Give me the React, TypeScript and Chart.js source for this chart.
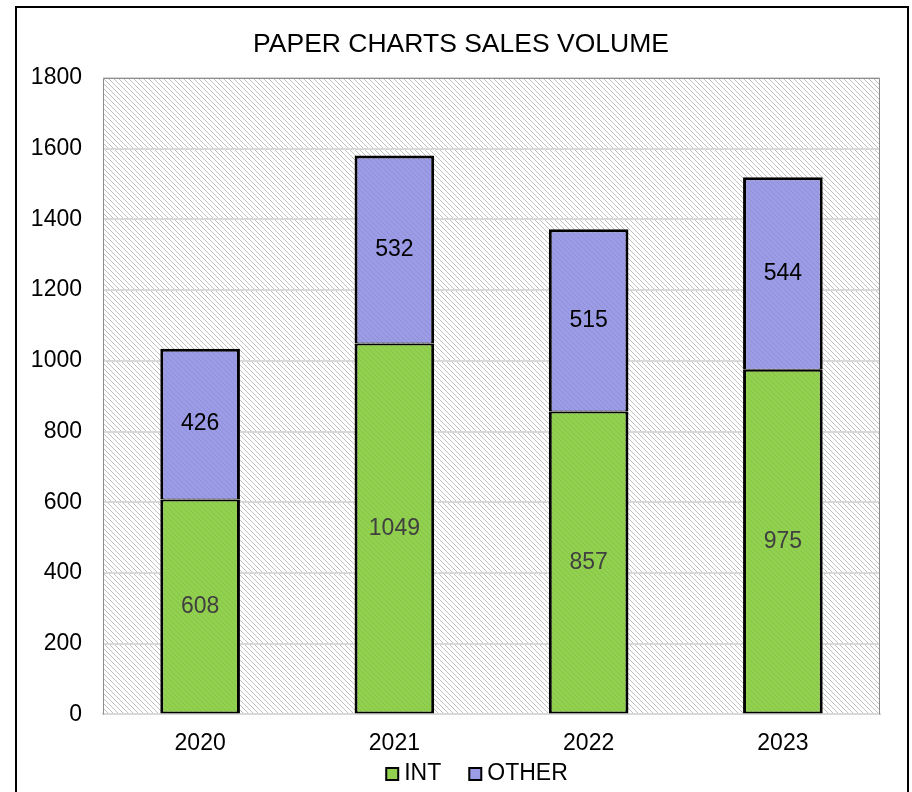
import React, { useEffect, useRef } from "react";
import { Chart, registerables } from "chart.js";

Chart.register(...registerables);

const categories = ["2020", "2021", "2022", "2023"];
const intValues = [608, 1049, 857, 975];
const otherValues = [426, 532, 515, 544];
const yTicks = [0, 200, 400, 600, 800, 1000, 1200, 1400, 1600, 1800];
const seriesNames = ["INT", "OTHER"];
const seriesColors = ["#92d050", "#9c9ce6"];
const titleText = "PAPER CHARTS SALES VOLUME";

const FONT = "'Liberation Sans', Arial, sans-serif";

function hatchPattern(base: string, line: string, period: number) {
  const c = document.createElement("canvas");
  c.width = period;
  c.height = period;
  const g = c.getContext("2d")!;
  g.fillStyle = base;
  g.fillRect(0, 0, period, period);
  g.fillStyle = line;
  for (let i = 0; i < period; i++) g.fillRect(i, i, 1, 1);
  return g.createPattern(c, "repeat")!;
}

export default function App() {
  const ref = useRef<HTMLCanvasElement>(null);

  useEffect(() => {
    const canvas = ref.current!;
    const ctx = canvas.getContext("2d")!;
    const bgPattern = hatchPattern("#ffffff", "#c0c0c0", 5);
    const greenPattern = hatchPattern("#92d050", "#86c446", 5);
    const purplePattern = hatchPattern("#9c9ce6", "#8f8fda", 5);

    const frame = {
      id: "frame",
      beforeDraw(chart: any) {
        const c = chart.ctx;
        const a = chart.chartArea;
        c.save();
        c.fillStyle = "#ffffff";
        c.fillRect(0, 0, chart.width, chart.height);
        c.fillStyle = bgPattern;
        c.fillRect(a.left, a.top, a.right - a.left, a.bottom - a.top);
        c.restore();
      },
      beforeDatasetsDraw(chart: any) {
        const c = chart.ctx;
        const a = chart.chartArea;
        c.save();
        c.strokeStyle = "#8c8c8c";
        c.lineWidth = 1;
        c.beginPath();
        c.moveTo(a.left + 0.5, a.bottom);
        c.lineTo(a.left + 0.5, a.top + 0.5);
        c.lineTo(a.right - 0.5, a.top + 0.5);
        c.lineTo(a.right - 0.5, a.bottom);
        c.stroke();
        c.restore();
      },
      afterDraw(chart: any) {
        const c = chart.ctx;
        c.save();
        // outer frame
        c.strokeStyle = "#000000";
        c.lineWidth = 2;
        c.strokeRect(16, 7, 892, 820);
        // title
        c.fillStyle = "#000000";
        c.font = `26.5px ${FONT}`;
        c.textAlign = "center";
        c.textBaseline = "middle";
        c.fillText(titleText, 461, 45);
        // legend
        c.font = `23px ${FONT}`;
        c.textAlign = "left";
        const box = 12;
        const gapText = 6;
        const gapItem = 28;
        const widths = seriesNames.map((n) => c.measureText(n).width);
        let total = 0;
        widths.forEach((w, i) => {
          total += box + gapText + w + (i < widths.length - 1 ? gapItem : 0);
        });
        let x = 477 - total / 2;
        const cy = 774;
        seriesNames.forEach((n, i) => {
          c.fillStyle = seriesColors[i];
          c.fillRect(x, cy - box / 2, box, box);
          c.strokeStyle = "#000000";
          c.lineWidth = 2;
          c.strokeRect(x, cy - box / 2, box, box);
          c.fillStyle = "#000000";
          c.fillText(n, x + box + gapText, cy);
          x += box + gapText + widths[i] + gapItem;
        });
        c.restore();
      },
    };

    const labels = {
      id: "valueLabels",
      afterDatasetsDraw(chart: any) {
        const c = chart.ctx;
        c.save();
        c.font = `23px ${FONT}`;
        c.textAlign = "center";
        c.textBaseline = "middle";
        chart.data.datasets.forEach((ds: any, di: number) => {
          const meta = chart.getDatasetMeta(di);
          c.fillStyle = di === 0 ? "#404040" : "#000000";
          meta.data.forEach((el: any, i: number) => {
            const y = (el.y + el.base) / 2;
            c.fillText(String(ds.data[i]), el.x, y);
          });
        });
        c.restore();
      },
    };

    const chart = new Chart(ctx, {
      type: "bar",
      data: {
        labels: categories,
        datasets: [
          {
            label: seriesNames[0],
            data: intValues,
            backgroundColor: greenPattern,
            borderColor: "#000000",
            borderWidth: { top: 2, left: 3, right: 3, bottom: 2 },
            borderSkipped: false,
          },
          {
            label: seriesNames[1],
            data: otherValues,
            backgroundColor: purplePattern,
            borderColor: "#000000",
            borderWidth: { top: 3, left: 3, right: 3, bottom: 1 },
            borderSkipped: false,
          },
        ],
      },
      options: {
        responsive: false,
        animation: false,
        layout: { padding: { top: 78, right: 32, left: 0, bottom: 28 } },
        categoryPercentage: 1,
        barPercentage: 0.41,
        scales: {
          x: {
            stacked: true,
            grid: { display: false },
            border: { display: true, color: "#d9d9d9", width: 2 },
            ticks: { color: "#000000", font: { family: FONT, size: 23 }, padding: 7 },
          },
          y: {
            stacked: true,
            min: 0,
            max: 1800,
            afterBuildTicks(scale: any) {
              scale.ticks = yTicks.map((v) => ({ value: v }));
            },
            afterFit(scale: any) {
              scale.width = 103;
            },
            grid: { color: "#d9d9d9", lineWidth: 2, drawTicks: false },
            border: { display: false },
            ticks: {
              color: "#000000",
              font: { family: FONT, size: 23 },
              padding: 21,
              callback: (v: any) => String(v),
            },
          },
        },
        plugins: {
          title: { display: false },
          legend: { display: false },
          tooltip: { enabled: false },
        },
      },
      plugins: [frame, labels],
    });
    return () => chart.destroy();
  }, []);

  return (
    <div style={{ position: "absolute", left: 0, top: 0, width: 912, height: 792 }}>
      <canvas ref={ref} width={912} height={792} style={{ display: "block" }} />
    </div>
  );
}
